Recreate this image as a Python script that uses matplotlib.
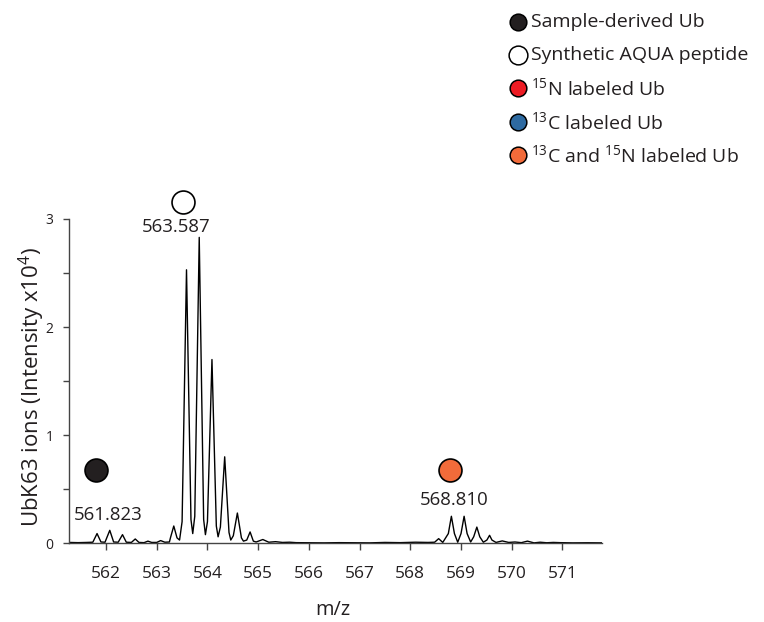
import matplotlib
matplotlib.use('Agg')
import matplotlib.pyplot as plt
from matplotlib.lines import Line2D

plt.rcParams['font.family'] = ['Open Sans', 'DejaVu Sans']
plt.rcParams['mathtext.fontset'] = 'custom'
plt.rcParams['mathtext.rm'] = 'Open Sans'
plt.rcParams['mathtext.it'] = 'Open Sans'
plt.rcParams['mathtext.bf'] = 'Open Sans'

INK = '#231f20'

# isotope peak apexes (m/z, intensity x10^4)
peak_mz = [561.823, 562.074, 562.325, 562.576, 562.826, 563.077, 563.336,
           563.587, 563.838, 564.089, 564.340, 564.590, 564.841, 565.092,
           565.343, 565.62,
           568.559, 568.810, 569.061, 569.312, 569.563, 569.813, 570.064,
           570.31, 570.56, 570.82]
peak_int = [0.09, 0.12, 0.08, 0.04, 0.02, 0.025, 0.16,
            2.53, 2.83, 1.70, 0.80, 0.28, 0.105, 0.035,
            0.015, 0.01,
            0.043, 0.25, 0.25, 0.15, 0.074, 0.022, 0.012,
            0.02, 0.01, 0.008]

# baseline / valley points between the peaks
valleys = [(561.27, 0.008), (561.45, 0.006), (561.62, 0.008), (561.74, 0.01),
           (561.90, 0.012), (561.98, 0.01), (562.15, 0.012), (562.24, 0.01),
           (562.40, 0.01), (562.50, 0.008), (562.65, 0.008), (562.75, 0.006),
           (562.90, 0.008), (563.00, 0.008), (563.16, 0.01), (563.25, 0.012),
           (563.45, 0.03), (563.71, 0.09), (563.96, 0.08), (564.21, 0.06),
           (564.46, 0.03), (564.71, 0.02), (564.96, 0.012), (565.21, 0.01),
           (565.48, 0.008), (565.75, 0.006), (566.0, 0.005), (566.3, 0.004),
           (566.6, 0.006), (566.9, 0.005), (567.2, 0.004), (567.5, 0.008),
           (567.8, 0.006), (568.1, 0.01), (568.35, 0.008), (568.48, 0.01),
           (568.64, 0.008), (568.935, 0.01), (569.19, 0.012), (569.44, 0.01),
           (569.69, 0.008), (569.94, 0.008), (570.19, 0.006), (570.44, 0.004),
           (570.69, 0.005), (570.95, 0.006), (571.2, 0.004), (571.5, 0.005),
           (571.78, 0.004)]

# flank points on the taller peaks, where the curve bends into the valleys
shoulders = [(563.27, 0.05), (563.40, 0.05), (563.50, 0.20), (563.675, 0.22),
             (563.75, 0.25), (563.925, 0.22), (564.00, 0.20), (564.175, 0.16),
             (564.255, 0.15), (564.425, 0.10), (564.51, 0.07), (564.67, 0.05),
             (564.775, 0.03), (564.905, 0.02),
             (568.75, 0.09), (568.87, 0.09), (569.00, 0.09), (569.12, 0.09),
             (569.25, 0.06), (569.37, 0.06), (569.51, 0.03), (569.61, 0.03)]

# annotated species
species_mz = [561.80, 563.52, 568.78]
species_int = [0.68, 3.155, 0.68]
species_color = [INK, 'white', '#f26b3a']
label_text = ['561.823', '563.587', '568.810']
label_mz = [562.05, 563.375, 568.86]
label_int = [0.26, 2.93, 0.40]

legend_labels = ['Sample-derived Ub', 'Synthetic AQUA peptide',
                 r'$^{15}$N labeled Ub', r'$^{13}$C labeled Ub',
                 r'$^{13}$C and $^{15}$N labeled Ub']
legend_colors = [INK, 'white', '#ed1c24', '#2e6aa1', '#f26b3a']

# merge apexes, flanks and valleys into one trace
pts = sorted(list(zip(peak_mz, peak_int)) + valleys + shoulders)
trace_mz = [p[0] for p in pts]
trace_int = [p[1] for p in pts]

fig = plt.figure(figsize=(7.64, 6.22), dpi=100)
ax = fig.add_axes([69 / 764, 1 - 543.3 / 622, 533 / 764, 324.3 / 622])

ax.plot(trace_mz, trace_int, color='black', lw=1.0)

for x, y, c in zip(species_mz, species_int, species_color):
    ax.plot([x], [y], 'o', ms=16.5, mfc=c, mec='black', mew=1.2, clip_on=False)
for t, x, y in zip(label_text, label_mz, label_int):
    ax.text(x, y, t, ha='center', va='center', fontsize=13.4, color=INK, clip_on=False)

ax.set_xlim(561.27, 571.78)
ax.set_ylim(0, 3)
ax.set_xticks(range(562, 572))
ax.set_yticks([0, 1, 2, 3])
ax.set_yticks([0.5, 1.5, 2.5], minor=True)
ax.spines['top'].set_visible(False)
ax.spines['right'].set_visible(False)
for s in ['left', 'bottom']:
    ax.spines[s].set_color('#444444')
    ax.spines[s].set_linewidth(1.0)
ax.tick_params(axis='x', direction='out', length=5, width=1.0, color='#444444',
               labelsize=12.5, pad=11, labelcolor=INK)
ax.tick_params(axis='y', which='both', direction='out', length=4, width=1.0,
               color='#444444', labelsize=10, pad=7, labelcolor=INK)

fig.text(32 / 764, 1 - 387 / 622, 'UbK63 ions (Intensity x10$^4$)', rotation=90,
         ha='center', va='center', fontsize=16, color=INK)
fig.text(333 / 764, 1 - 610 / 622, 'm/z', ha='center', va='center', fontsize=14.4, color=INK)

# legend built by hand in figure coordinates
rows_y = [21.7, 55, 88.3, 121.7, 155]
legend_ms = [12, 13.5, 12, 12, 12]
for y, lab, c, m in zip(rows_y, legend_labels, legend_colors, legend_ms):
    fy = 1 - y / 622
    fig.add_artist(Line2D([518 / 764], [fy], transform=fig.transFigure, marker='o',
                          ms=m, mfc=c, mec='black', mew=1.1, ls='none'))
    fig.text(531 / 764, fy, lab, ha='left', va='center', fontsize=14, color=INK)

plt.savefig('out.png', dpi=100)
